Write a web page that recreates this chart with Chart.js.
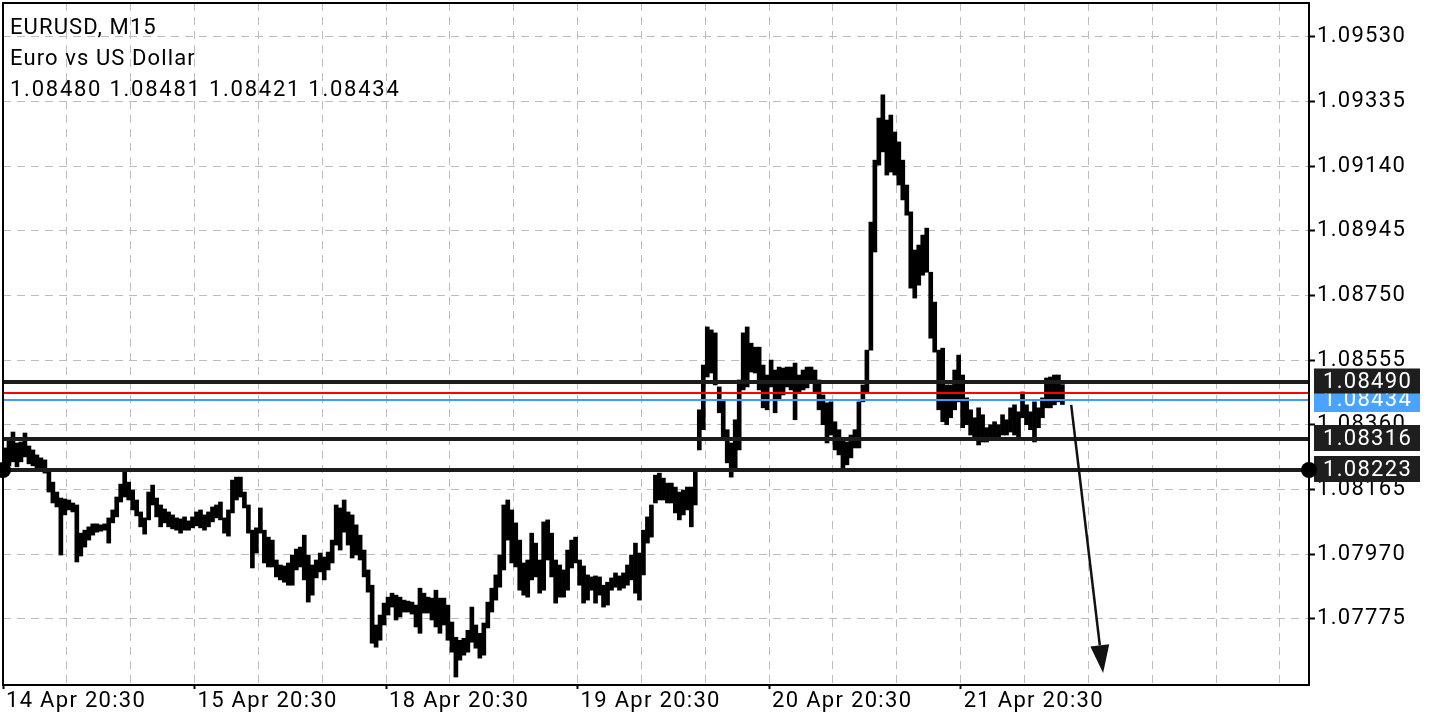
<!DOCTYPE html>
<html><head><meta charset="utf-8">
<script src="https://cdn.jsdelivr.net/npm/chart.js@4.4.0/dist/chart.umd.min.js"></script>
<style>html,body{margin:0;padding:0;background:#fff;overflow:hidden}#wrap{width:1440px;height:720px}</style>
</head><body><div id="wrap"><canvas id="c" width="1440" height="720"></canvas></div>
<script>
const symbolTitle = 'EURUSD, M15';
const symbolName = 'Euro vs US Dollar';
const lastOHLC = [1.08480, 1.08481, 1.08421, 1.08434];
const dayLabels = ['14 Apr 20:30','15 Apr 20:30','18 Apr 20:30','19 Apr 20:30','20 Apr 20:30','21 Apr 20:30'];
const priceTicks = [1.07775,1.07970,1.08165,1.08360,1.08555,1.08750,1.08945,1.09140,1.09335,1.09530];
const levelLines = [1.08490, 1.08316, 1.08223];
const bidPrice = 1.08434;
const askPrice = 1.08455;
const arrowFrom = [267.2, 1.08420];
const arrowTo = [275.2, 1.07611];
const priceMin = 1.07575, priceMax = 1.09632;
const barMin = -0.5, barMax = 326.8;
const barsPerGrid = 16, gridsPerDay = 3;

// 30-minute high / low pairs
const barHighs = [
1.08290,1.08314,1.08338,1.08305,1.08308,1.08335,1.08296,1.08284,1.08269,1.08260,
1.08254,1.08224,1.08187,1.08157,1.08139,1.08136,1.08133,1.08124,1.08118,1.08033,
1.08042,1.08052,1.08061,1.08061,1.08058,1.08061,1.08079,1.08103,1.08142,1.08181,
1.08217,1.08187,1.08163,1.08133,1.08097,1.08079,1.08157,1.08178,1.08139,1.08118,
1.08106,1.08097,1.08088,1.08079,1.08076,1.08082,1.08070,1.08082,1.08097,1.08103,
1.08088,1.08097,1.08112,1.08118,1.08127,1.08079,1.08103,1.08193,1.08202,1.08202,
1.08157,1.08118,1.08042,1.08049,1.08109,1.08042,1.08021,1.08012,1.07952,1.07937,
1.07934,1.07943,1.07967,1.07985,1.07991,1.08027,1.07967,1.07937,1.07952,1.07973,
1.07961,1.07976,1.08012,1.08118,1.08109,1.08133,1.08097,1.08088,1.08058,1.08027,
1.07982,1.07922,1.07876,1.07756,1.07786,1.07822,1.07840,1.07852,1.07846,1.07840,
1.07831,1.07828,1.07825,1.07816,1.07867,1.07852,1.07840,1.07837,1.07861,1.07837,
1.07837,1.07816,1.07765,1.07719,1.07710,1.07716,1.07740,1.07810,1.07756,1.07731,
1.07762,1.07825,1.07867,1.07907,1.07967,1.08118,1.08133,1.08103,1.08064,1.08012,
1.07943,1.07952,1.08033,1.08003,1.07952,1.08067,1.08073,1.08033,1.07952,1.07937,
1.07922,1.07982,1.08012,1.08021,1.07952,1.07934,1.07907,1.07901,1.07904,1.07901,
1.07876,1.07885,1.07898,1.07913,1.07904,1.07913,1.07937,1.07967,1.08003,1.07973,
1.08042,1.08082,1.08118,1.08208,1.08214,1.08199,1.08184,1.08184,1.08172,1.08157,
1.08163,1.08172,1.08172,1.08224,1.08405,1.08540,1.08655,1.08646,1.08637,1.08474,
1.08435,1.08345,1.08305,1.08375,1.08495,1.08637,1.08655,1.08606,1.08594,1.08594,
1.08540,1.08510,1.08555,1.08525,1.08534,1.08531,1.08534,1.08534,1.08546,1.08510,
1.08525,1.08534,1.08534,1.08525,1.08495,1.08450,1.08426,1.08429,1.08369,1.08345,
1.08314,1.08308,1.08329,1.08345,1.08429,1.08480,1.08585,1.08971,1.09158,1.09285,
1.09355,1.09279,1.09294,1.09243,1.09213,1.09158,1.09083,1.09002,1.08887,1.08902,
1.08932,1.08953,1.08820,1.08730,1.08585,1.08591,1.08480,1.08480,1.08525,1.08570,
1.08510,1.08441,1.08405,1.08381,1.08411,1.08390,1.08351,1.08360,1.08369,1.08360,
1.08390,1.08375,1.08411,1.08420,1.08399,1.08459,1.08420,1.08399,1.08429,1.08411,
1.08441,1.08501,1.08504,1.08510,1.08510,1.08481];
const barLows = [
1.08224,1.08236,1.08248,1.08233,1.08248,1.08263,1.08242,1.08236,1.08230,1.08224,
1.08214,1.08157,1.08124,1.08112,1.07967,1.08088,1.08103,1.08097,1.07946,1.07964,
1.07991,1.08012,1.08027,1.08036,1.08039,1.08042,1.08003,1.08064,1.08082,1.08127,
1.08142,1.08133,1.08103,1.08085,1.08052,1.08030,1.08073,1.08118,1.08082,1.08052,
1.08064,1.08052,1.08046,1.08042,1.08033,1.08042,1.08042,1.08049,1.08055,1.08049,
1.08042,1.08052,1.08067,1.08079,1.08073,1.08033,1.08024,1.08094,1.08133,1.08142,
1.08109,1.08033,1.07928,1.07973,1.08033,1.07943,1.07931,1.07931,1.07901,1.07892,
1.07885,1.07876,1.07876,1.07922,1.07931,1.07892,1.07825,1.07846,1.07898,1.07916,
1.07892,1.07922,1.07943,1.07997,1.07982,1.08036,1.07997,1.07958,1.07967,1.07952,
1.07901,1.07855,1.07701,1.07689,1.07710,1.07756,1.07786,1.07810,1.07771,1.07780,
1.07795,1.07795,1.07789,1.07750,1.07731,1.07792,1.07792,1.07771,1.07750,1.07731,
1.07756,1.07710,1.07674,1.07599,1.07650,1.07665,1.07674,1.07704,1.07686,1.07656,
1.07665,1.07747,1.07795,1.07831,1.07870,1.07922,1.08012,1.07943,1.07931,1.07861,
1.07846,1.07840,1.07892,1.07901,1.07852,1.07861,1.07952,1.07901,1.07822,1.07840,
1.07840,1.07861,1.07928,1.07943,1.07876,1.07822,1.07831,1.07861,1.07822,1.07846,
1.07810,1.07816,1.07861,1.07870,1.07861,1.07867,1.07876,1.07892,1.07852,1.07831,
1.07907,1.08003,1.08021,1.08124,1.08133,1.08133,1.08124,1.08124,1.08094,1.08073,
1.08088,1.08103,1.08052,1.08118,1.08284,1.08345,1.08504,1.08516,1.08480,1.08396,
1.08314,1.08245,1.08202,1.08224,1.08284,1.08465,1.08474,1.08519,1.08516,1.08465,
1.08411,1.08405,1.08474,1.08396,1.08435,1.08450,1.08474,1.08465,1.08375,1.08459,
1.08465,1.08471,1.08486,1.08456,1.08405,1.08360,1.08305,1.08329,1.08284,1.08269,
1.08230,1.08239,1.08260,1.08290,1.08290,1.08429,1.08459,1.08585,1.08881,1.09143,
1.09183,1.09113,1.09122,1.09113,1.09083,1.09038,1.08992,1.08772,1.08742,1.08781,
1.08811,1.08820,1.08621,1.08579,1.08405,1.08369,1.08360,1.08381,1.08405,1.08429,
1.08351,1.08360,1.08329,1.08314,1.08299,1.08308,1.08308,1.08314,1.08320,1.08320,
1.08329,1.08329,1.08338,1.08329,1.08320,1.08381,1.08360,1.08345,1.08308,1.08351,
1.08381,1.08411,1.08411,1.08420,1.08429,1.08421];

const FONT = 'Roboto';
const n = Math.min(barHighs.length, barLows.length);
const barData = [];
for (let i = 0; i < n; i++) barData.push({x: i, y: [barLows[i], barHighs[i]]});

const isDayTick = (idx) => idx % gridsPerDay === 0 && idx / gridsPerDay < dayLabels.length;

const overlay = {
  id: 'overlay',
  beforeDraw(chart) { chart.ctx.letterSpacing = '1.3px'; },
  afterDatasetsDraw(chart) {
    const {ctx, chartArea: a, scales: {x, y}} = chart;
    ctx.save();
    ctx.beginPath(); ctx.rect(a.left, a.top, a.right - a.left, a.bottom - a.top); ctx.clip();
    const hline = (p, color, w) => {
      const py = Math.round(y.getPixelForValue(p));
      ctx.fillStyle = color;
      ctx.fillRect(a.left, py - w / 2, a.right - a.left, w);
    };
    hline(askPrice, '#ff0000', 2);
    hline(bidPrice, '#3d9bff', 2);
    levelLines.forEach(p => hline(p, '#1c1c1c', 4));
    // arrow
    const x0 = x.getPixelForValue(arrowFrom[0]), y0 = y.getPixelForValue(arrowFrom[1]);
    const x1 = x.getPixelForValue(arrowTo[0]), y1 = y.getPixelForValue(arrowTo[1]);
    const ang = Math.atan2(y1 - y0, x1 - x0), hl = 28, hw = 9.5;
    const bx = x1 - hl * Math.cos(ang), by = y1 - hl * Math.sin(ang);
    ctx.strokeStyle = '#111'; ctx.lineWidth = 2.5;
    ctx.beginPath(); ctx.moveTo(x0, y0); ctx.lineTo(bx, by); ctx.stroke();
    ctx.fillStyle = '#111';
    ctx.beginPath(); ctx.moveTo(x1, y1);
    ctx.lineTo(bx + hw * Math.sin(ang), by - hw * Math.cos(ang));
    ctx.lineTo(bx - hw * Math.sin(ang), by + hw * Math.cos(ang));
    ctx.closePath(); ctx.fill();
    ctx.restore();
    ctx.save();
    ctx.strokeStyle = '#000'; ctx.lineWidth = 2;
    ctx.strokeRect(a.left, a.top, a.right - a.left, a.bottom - a.top);
    ctx.restore();
  },
  afterDraw(chart) {
    const {ctx, chartArea: a, scales: {y}} = chart;
    ctx.save();
    ctx.font = '22px ' + FONT;
    ctx.textBaseline = 'middle';
    ctx.textAlign = 'left';
    const box = (p, bg, h) => {
      const py = Math.round(y.getPixelForValue(p));
      ctx.fillStyle = bg;
      ctx.fillRect(y.left + 5, py - h / 2 - 1, 106, h);
      ctx.fillStyle = '#fff';
      ctx.letterSpacing = '1.3px';
      ctx.fillText(p.toFixed(5), y.left + 14, py);
    };
    box(bidPrice, '#4aa3ff', 26);
    box(levelLines[0], '#1e1e1e', 25);
    box(levelLines[1], '#1e1e1e', 26);
    box(levelLines[2], '#1e1e1e', 26);
    // end points of lowest level
    const py = Math.round(y.getPixelForValue(levelLines[2]));
    ctx.fillStyle = '#000';
    [a.left, a.right].forEach(px => { ctx.beginPath(); ctx.arc(px, py, 8, 0, Math.PI * 2); ctx.fill(); });
    // header
    ctx.textBaseline = 'alphabetic';
    ctx.fillStyle = '#000';
    ctx.letterSpacing = '1.1px';
    ctx.fillText(symbolTitle, a.left + 7, 34);
    ctx.fillText(symbolName, a.left + 7, 65);
    ctx.letterSpacing = '1.75px';
    ctx.fillText(lastOHLC.map(v => v.toFixed(5)).join(' '), a.left + 7, 96);
    ctx.restore();
  }
};

new Chart(document.getElementById('c'), {
  type: 'bar',
  data: { datasets: [{ data: barData, backgroundColor: '#000', borderWidth: 0, barThickness: 4 }] },
  options: {
    responsive: false, animation: false, devicePixelRatio: 1,
    layout: { padding: { left: 3, top: 3, right: 0, bottom: 0 } },
    plugins: { legend: { display: false }, tooltip: { enabled: false } },
    scales: {
      x: {
        type: 'linear', min: barMin, max: barMax, offset: false,
        afterBuildTicks: s => { const t = []; for (let v = barMin; v <= barMax; v += barsPerGrid) t.push({ value: v }); s.ticks = t; },
        ticks: {
          autoSkip: false, maxRotation: 0, minRotation: 0, align: 'start', padding: 1, labelOffset: 3, color: '#000',
          font: { family: FONT, size: 22, lineHeight: 1 },
          callback: (v, i) => isDayTick(i) ? dayLabels[i / gridsPerDay] : ''
        },
        grid: {
          offset: false,
          color: '#bdbdbd', lineWidth: 1, tickLength: 4, tickWidth: 2,
          tickColor: c => isDayTick(c.index) ? '#000' : 'rgba(0,0,0,0)'
        },
        border: { display: false, dash: [8, 6] },
        afterFit: s => { s.height = 35; s.paddingLeft = 0; s.paddingRight = 0; }
      },
      y: {
        type: 'linear', position: 'right', min: priceMin, max: priceMax,
        afterBuildTicks: s => { s.ticks = priceTicks.map(v => ({ value: v })); },
        ticks: {
          padding: 2, color: '#000', font: { family: FONT, size: 22 },
          callback: v => Number(v).toFixed(5)
        },
        grid: { offset: false, color: '#bdbdbd', lineWidth: 1, tickLength: 6, tickWidth: 2, tickColor: '#000' },
        border: { display: false, dash: [8, 6] },
        afterFit: s => { s.width = 131; s.paddingTop = 0; s.paddingBottom = 0; }
      }
    }
  },
  plugins: [overlay]
});
</script>
</body></html>
